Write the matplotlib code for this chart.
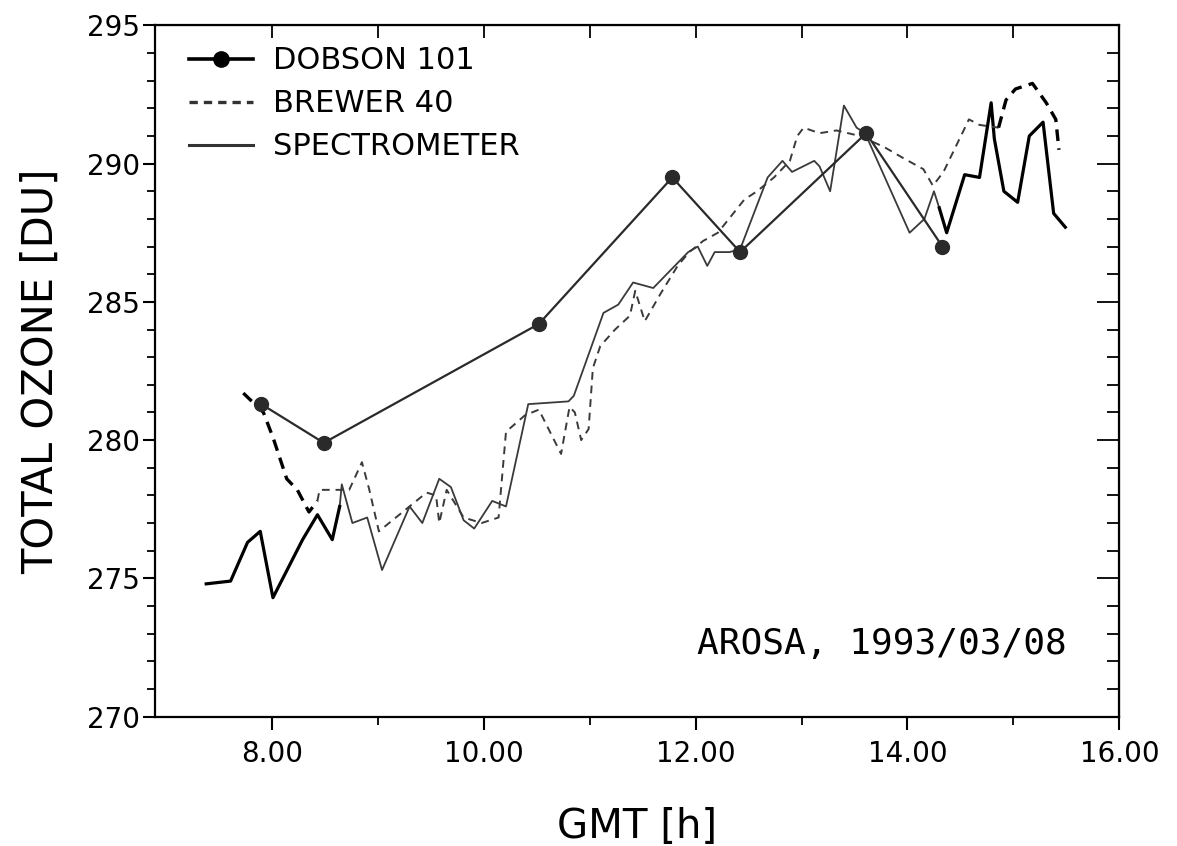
import numpy as np
import matplotlib
matplotlib.use('Agg')
import matplotlib.pyplot as plt
from matplotlib.lines import Line2D

# Dobson 101 (direct sun)
dob_t = [7.90, 8.49, 10.52, 11.78, 12.42, 13.61, 14.33]
dob_o = [281.3, 279.9, 284.2, 289.5, 286.8, 291.1, 287.0]

# Brewer 40
brw_t = [7.73, 7.92, 8.01, 8.14, 8.24, 8.35, 8.43, 8.45, 8.73, 8.85, 8.92, 9.01,
         9.46, 9.55, 9.58, 9.65, 9.81, 9.98, 10.14, 10.21, 10.39, 10.52, 10.73,
         10.81, 10.86, 10.92, 10.99, 11.03, 11.10, 11.24, 11.38, 11.43, 11.52,
         11.67, 11.83, 11.94, 12.07, 12.21, 12.46, 12.58, 12.74, 12.89, 12.96,
         13.02, 13.17, 13.33, 13.55, 13.78, 13.96, 14.15, 14.24, 14.34, 14.53,
         14.58, 14.68, 14.86, 14.93, 15.02, 15.18, 15.31, 15.40, 15.43]
brw_o = [281.7, 281.0, 280.1, 278.6, 278.2, 277.4, 277.8, 278.2, 278.2, 279.2, 278.2, 276.7,
         278.1, 278.0, 277.0, 278.2, 277.2, 277.0, 277.2, 280.3, 280.9, 281.1, 279.5,
         281.2, 281.0, 280.0, 280.4, 282.6, 283.4, 284.0, 284.5, 285.4, 284.3,
         285.3, 286.3, 286.8, 287.2, 287.5, 288.7, 289.0, 289.5, 290.1, 291.0,
         291.3, 291.1, 291.2, 291.0, 290.6, 290.2, 289.8, 289.2, 289.7, 291.2,
         291.6, 291.4, 291.3, 292.3, 292.7, 292.9, 292.2, 291.6, 290.5]

# Spectrometer
spc_t = [7.38, 7.61, 7.77, 7.89, 8.01, 8.29, 8.43, 8.57, 8.64, 8.66, 8.76, 8.90,
         9.04, 9.30, 9.42, 9.58, 9.69, 9.81, 9.91, 10.08, 10.21, 10.42, 10.80,
         10.85, 11.13, 11.27, 11.41, 11.60, 11.93, 12.02, 12.11, 12.18, 12.32,
         12.42, 12.68, 12.82, 12.91, 13.12, 13.17, 13.27, 13.40, 13.52, 13.60,
         14.02, 14.16, 14.25, 14.30, 14.37, 14.54, 14.68, 14.79, 14.82, 14.91,
         15.04, 15.15, 15.28, 15.38, 15.49]
spc_o = [274.8, 274.9, 276.3, 276.7, 274.3, 276.4, 277.3, 276.4, 277.6, 278.4, 277.0, 277.2,
         275.3, 277.6, 277.0, 278.6, 278.3, 277.1, 276.8, 277.8, 277.6, 281.3, 281.4,
         281.6, 284.6, 284.9, 285.7, 285.5, 286.8, 287.0, 286.3, 286.8, 286.8,
         286.9, 289.5, 290.1, 289.7, 290.1, 289.9, 289.0, 292.1, 291.3, 291.1,
         287.5, 288.0, 289.0, 288.4, 287.5, 289.6, 289.5, 292.2, 290.9, 289.0,
         288.6, 291.0, 291.5, 288.2, 287.7]

fig = plt.figure(figsize=(11.77, 8.46), dpi=100)
ax = fig.add_axes([0.132, 0.153, 0.819, 0.817])


def draw_series(t, o, bold_lo, bold_hi, ls):
    t = np.array(t)
    o = np.array(o)
    # thin grey middle part, bold black ends (as in the pasted-up original)
    mid = (t >= bold_lo) & (t <= bold_hi)
    if ls == '--':
        ax.plot(t[mid], o[mid], color='#3a3a3a', lw=1.4, ls='--', dashes=(4, 3))
    else:
        ax.plot(t[mid], o[mid], color='#3a3a3a', lw=1.3)
    for m in (t <= bold_lo, t >= bold_hi):
        if ls == '--':
            ax.plot(t[m], o[m], color='black', lw=2.4, ls='--', dashes=(3.5, 2.2))
        else:
            ax.plot(t[m], o[m], color='black', lw=2.3)


draw_series(spc_t, spc_o, 8.64, 14.30, '-')
draw_series(brw_t, brw_o, 8.43, 14.86, '--')
ax.plot(dob_t, dob_o, color='#2a2a2a', lw=1.6, marker='o', ms=10)

ax.set_xlim(6.9, 16.0)
ax.set_ylim(270, 295)
ax.set_xticks([8, 10, 12, 14, 16])
ax.set_xticklabels(['8.00', '10.00', '12.00', '14.00', '16.00'])
ax.set_xticks([9, 11, 13, 15], minor=True)
ax.set_yticks([270, 275, 280, 285, 290, 295])
ax.set_yticks(np.arange(270, 295, 1), minor=True)
ax.tick_params(axis='both', which='major', labelsize=20, direction='out', length=9, width=1.5, pad=2)
ax.tick_params(axis='both', which='minor', direction='out', length=6, width=1.3)
ax.tick_params(axis='x', pad=8)
for s in ax.spines.values():
    s.set_linewidth(1.6)

top = ax.secondary_xaxis('top')
top.set_xticks([8, 9, 10, 11, 12, 13, 14, 15, 16])
top.tick_params(direction='in', length=9, width=1.3, labeltop=False)
right = ax.secondary_yaxis('right')
right.set_yticks([270, 275, 280, 285, 290, 295])
right.set_yticks(np.arange(270, 295, 1), minor=True)
right.tick_params(which='major', direction='in', length=16, width=1.3, labelright=False)
right.tick_params(which='minor', direction='in', length=9, width=1.3)

ax.set_xlabel('GMT [h]', fontsize=29, labelpad=28)
ax.set_ylabel('TOTAL OZONE [DU]', fontsize=30, labelpad=18)

handles = [Line2D([], [], color='black', lw=2.6, marker='o', ms=11, markevery=[0, -1]),
           Line2D([], [], color='#333333', lw=2.4, ls='--', dashes=(2.5, 1.8)),
           Line2D([], [], color='#333333', lw=2.2)]
ax.legend(handles, ['DOBSON 101', 'BREWER 40', 'SPECTROMETER'], loc='upper left',
          frameon=False, fontsize=22, handlelength=2.1, handletextpad=0.65,
          labelspacing=0.46, borderaxespad=0.0, borderpad=0.3,
          bbox_to_anchor=(0.025, 0.983))

ax.text(0.562, 0.105, 'AROSA, 1993/03/08', transform=ax.transAxes, fontsize=26,
        family='DejaVu Sans Mono', ha='left', va='center')

fig.savefig('out.png', dpi=100)
